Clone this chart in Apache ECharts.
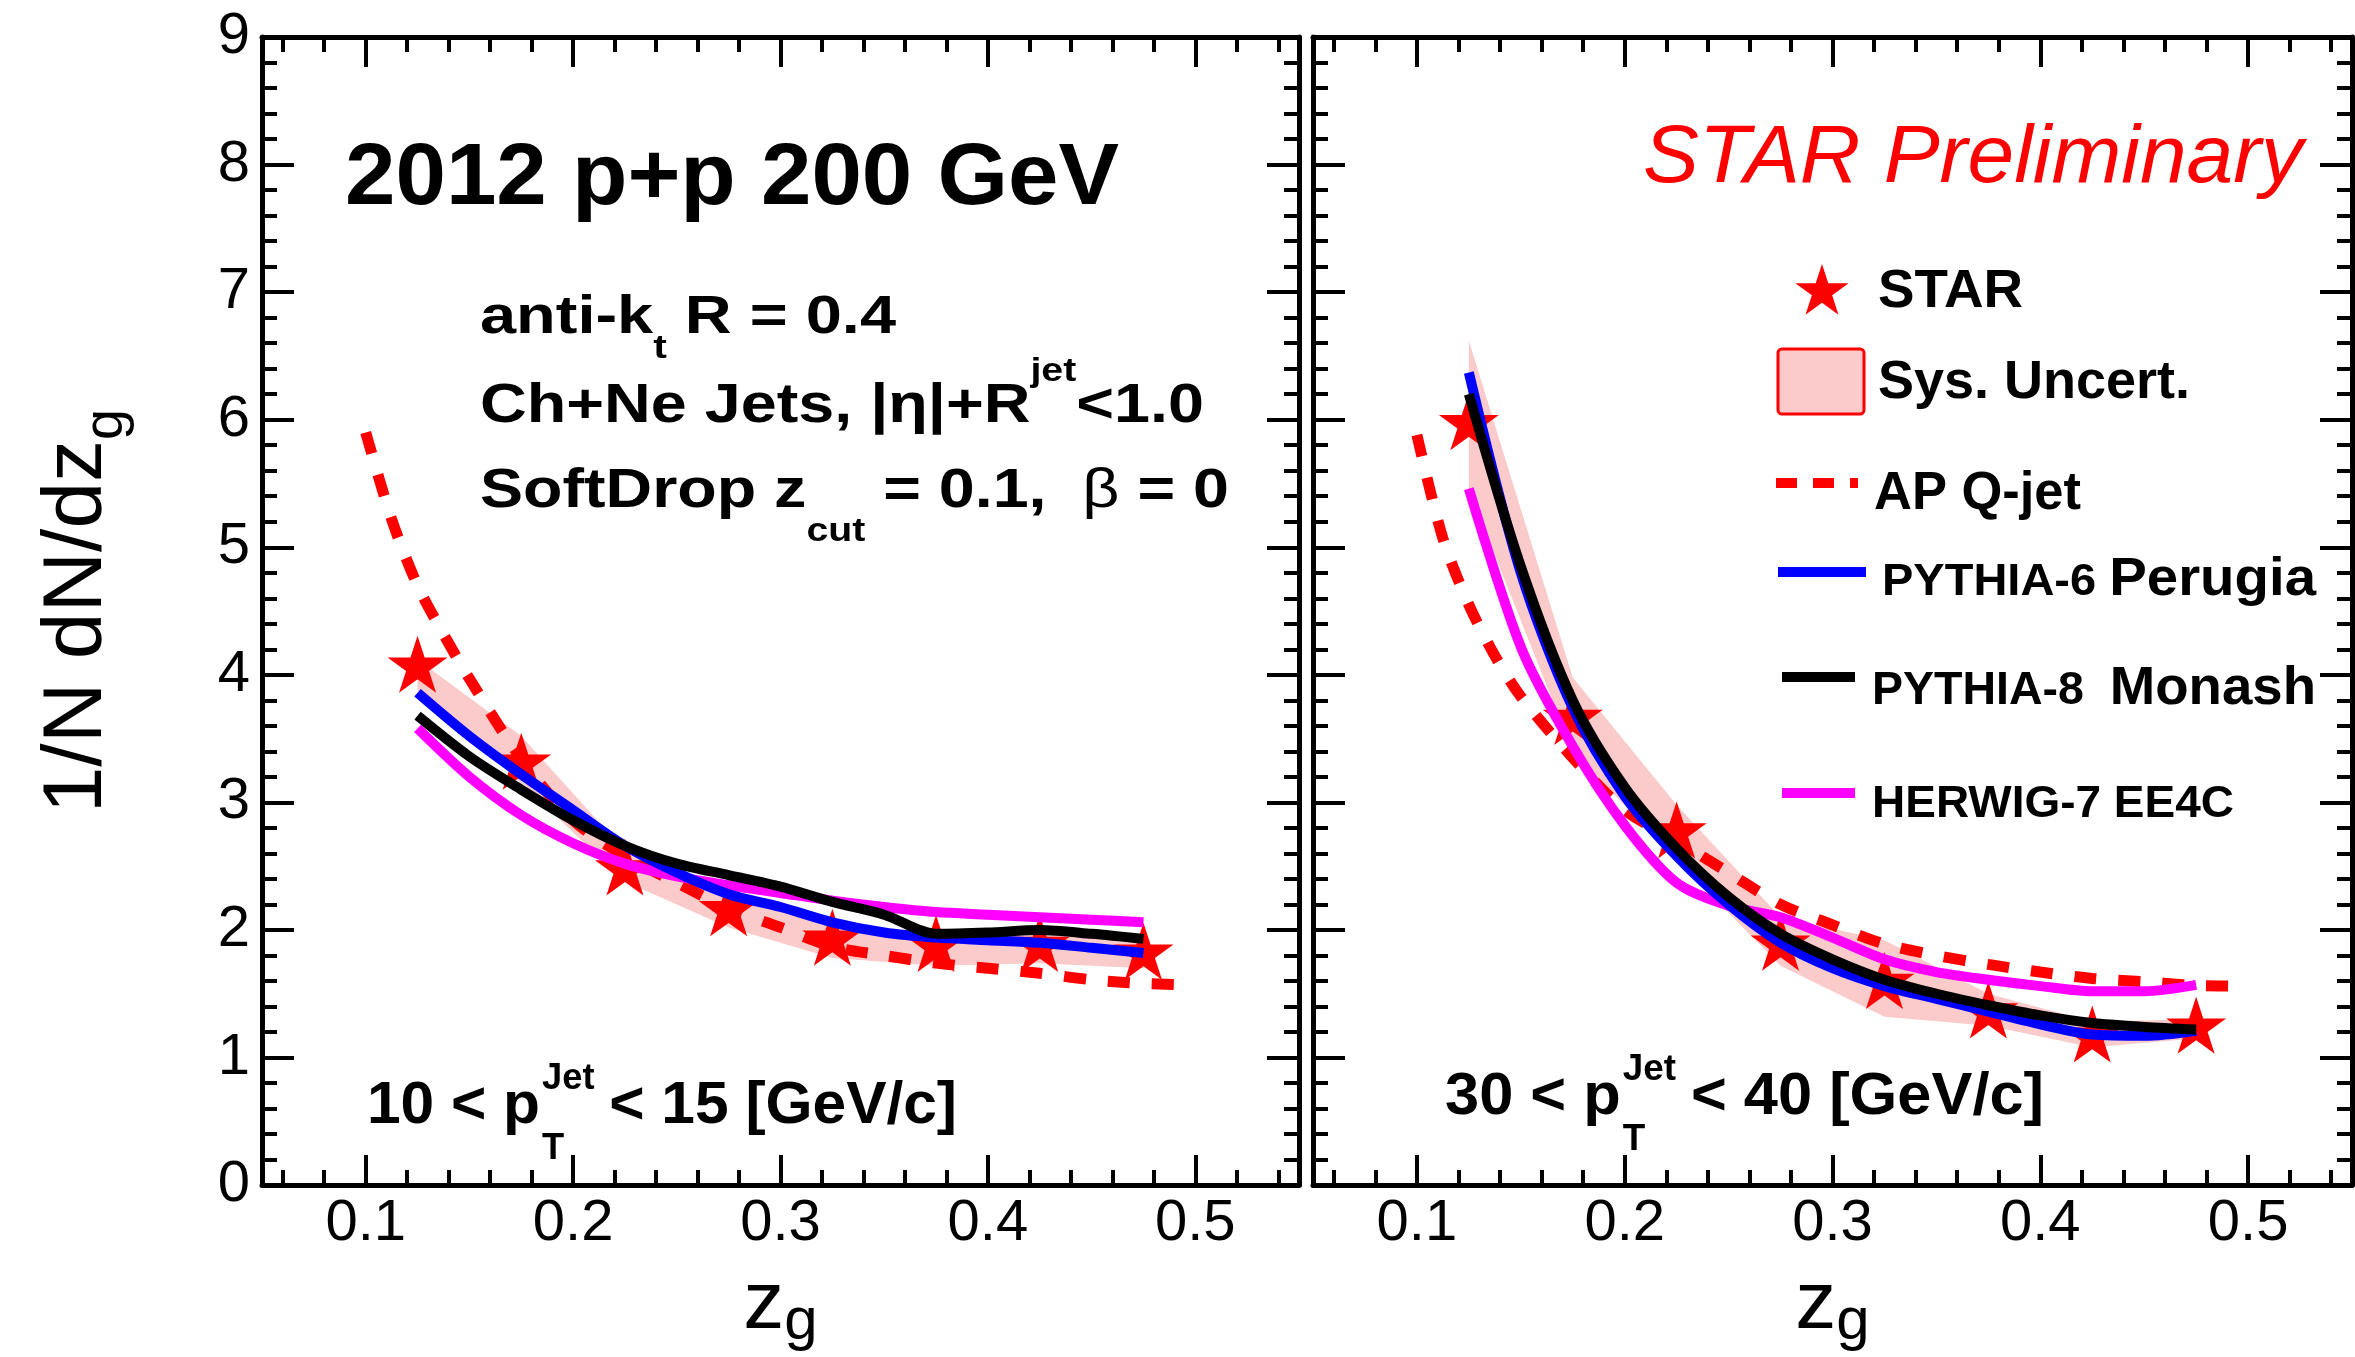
<!DOCTYPE html>
<html><head><meta charset="utf-8">
<script src="https://cdn.jsdelivr.net/npm/echarts@6/dist/echarts.min.js"></script>
<style>html,body{margin:0;padding:0;background:#fff;} #c{width:2355px;height:1357px;}</style>
</head><body><div id="c"></div>
<script>
const FONT = '"Liberation Sans", Arial, Helvetica, sans-serif';

// ---- axis ticks ----
const xMajor = [0.1, 0.2, 0.3, 0.4, 0.5];
const xMinor = [];
for (let i = 3; i <= 27; i++) { if (i % 5 !== 0) xMinor.push(+(i * 0.02).toFixed(2)); }

// ---- STAR data (bin centres) ----
const zgBins = [0.125, 0.175, 0.225, 0.275, 0.325, 0.375, 0.425, 0.475];
const starLow  = [4.06, 3.30, 2.47, 2.15, 1.92, 1.87, 1.87, 1.81];   // 10<pT<15
const sysLowLo = [3.88, 3.15, 2.38, 2.02, 1.78, 1.72, 1.74, 1.70];
const sysLowHi = [4.12, 3.52, 2.62, 2.25, 2.05, 1.96, 1.96, 1.92];
const starHigh  = [5.96, 3.65, 2.76, 1.88, 1.58, 1.35, 1.16, 1.23];  // 30<pT<40
const sysHighLo = [5.45, 3.40, 2.55, 1.72, 1.32, 1.25, 1.08, 1.15];
const sysHighHi = [6.62, 3.98, 2.98, 2.10, 1.92, 1.50, 1.28, 1.30];

// ---- AP Q-jet ----
const apX     = [0.10, 0.1125, 0.125, 0.1375, 0.15, 0.175, 0.20, 0.225, 0.25, 0.275, 0.30, 0.325, 0.35, 0.375, 0.40, 0.425, 0.45, 0.475, 0.50];
const apLow   = [5.90, 5.22, 4.70, 4.32, 3.97, 3.34, 2.86, 2.58, 2.37, 2.17, 2.02, 1.87, 1.80, 1.74, 1.70, 1.66, 1.61, 1.58, 1.57];
const apHigh  = [5.88, 5.07, 4.55, 4.15, 3.83, 3.35, 2.94, 2.70, 2.45, 2.20, 2.04, 1.89, 1.80, 1.73, 1.67, 1.62, 1.595, 1.565, 1.56];

// ---- MC curves ----
const mcX = [0.125, 0.15, 0.175, 0.20, 0.225, 0.25, 0.275, 0.30, 0.325, 0.35, 0.375, 0.40, 0.425, 0.45, 0.475];
const py6Low  = [3.86, 3.52, 3.22, 2.94, 2.66, 2.45, 2.28, 2.18, 2.06, 1.98, 1.94, 1.92, 1.90, 1.86, 1.82];
const py8Low  = [3.68, 3.36, 3.10, 2.86, 2.66, 2.52, 2.43, 2.34, 2.22, 2.12, 1.97, 1.98, 2.00, 1.97, 1.93];
const hwLow   = [3.58, 3.20, 2.90, 2.68, 2.52, 2.42, 2.35, 2.29, 2.23, 2.18, 2.14, 2.12, 2.10, 2.08, 2.06];
const py6High = [6.37, 4.80, 3.74, 3.05, 2.58, 2.20, 1.90, 1.70, 1.56, 1.46, 1.36, 1.26, 1.18, 1.17, 1.21];
const py8High = [6.20, 4.85, 3.80, 3.12, 2.64, 2.26, 1.97, 1.77, 1.61, 1.50, 1.41, 1.33, 1.27, 1.24, 1.22];
const hwHigh  = [5.46, 4.22, 3.44, 2.82, 2.37, 2.19, 2.10, 1.94, 1.77, 1.67, 1.61, 1.56, 1.52, 1.52, 1.57];

const RED = '#ff0000', BLUE = '#0000ff', MAG = '#ff00ff', PINK = '#fbcaca';
const STAR_D = 'M50,0 L61.23,34.55 L97.55,34.55 L68.16,55.9 L79.39,90.45 L50,69.1 L20.61,90.45 L31.84,55.9 L2.45,34.55 L38.77,34.55 Z';

const zip = (xs, ys) => xs.map((x, i) => [x, ys[i]]);

// star polygon for the legend icon (centre cx, cy, outer radius R)
function starPoints(cx, cy, R) {
  const pts = [];
  for (let k = 0; k < 10; k++) {
    const r = k % 2 ? R * 0.382 : R;
    const a = -Math.PI / 2 + k * Math.PI / 5;
    pts.push([cx + r * Math.cos(a), cy + r * Math.sin(a)]);
  }
  return pts;
}

// ---- text helper (measured layout, sub/superscripts) ----
const mctx = document.createElement('canvas').getContext('2d');
function tw(t, f, w) { mctx.font = w + ' ' + f + 'px ' + FONT; return mctx.measureText(t).width; }
function mtext(x0, base, parts, targetW, color) {
  let x = 0, pend = 0; const kids = [];
  parts.forEach(p => {
    const w = p.w || 'bold';
    const wd = tw(p.t, p.f, w);
    kids.push({type: 'text', x: x + (p.dx || 0), y: (p.dy || 0) - 0.31 * p.f,
      style: {text: p.t, font: w + ' ' + p.f + 'px ' + FONT, fill: color || '#000',
        textAlign: 'left', align: 'left', textVerticalAlign: 'middle', verticalAlign: 'middle'}});
    if (p.stack) pend = Math.max(pend, wd);
    else { x += Math.max(wd, pend); pend = 0; }
  });
  const sx = targetW ? targetW / x : 1;
  return {type: 'group', x: x0, y: base, scaleX: sx, children: kids, silent: true};
}

// ---- axes ----
const AX = {color: '#000', width: 5};
const TK = {color: '#000', width: 4};
const labelFont = {fontFamily: FONT, fontSize: 58, color: '#000'};
function xAxesFor(g) {
  const base = {type: 'value', gridIndex: g, min: 0.05, max: 0.55, splitLine: {show: false}};
  return [
    Object.assign({}, base, {position: 'bottom', axisLine: {show: true, lineStyle: AX},
      axisTick: {show: true, inside: true, length: 30, lineStyle: TK, customValues: xMajor},
      axisLabel: Object.assign({show: true, customValues: xMajor, margin: 10, formatter: v => (+v).toFixed(1)}, labelFont),
      name: '{a|z}{s|g}', nameLocation: 'middle', nameGap: 72,
      nameTextStyle: {rich: {
        a: {fontFamily: FONT, fontSize: 82, lineHeight: 82, color: '#000'},
        s: {fontFamily: FONT, fontSize: 60, lineHeight: 60, padding: [34, 0, 0, 0], color: '#000'}}}}),
    Object.assign({}, base, {position: 'bottom', axisLine: {show: false},
      axisTick: {show: true, inside: true, length: 15, lineStyle: TK, customValues: xMinor},
      axisLabel: {show: false}}),
    Object.assign({}, base, {position: 'top', axisLine: {show: true, lineStyle: AX},
      axisTick: {show: true, inside: true, length: 30, lineStyle: TK, customValues: xMajor},
      axisLabel: {show: false}}),
    Object.assign({}, base, {position: 'top', axisLine: {show: false},
      axisTick: {show: true, inside: true, length: 15, lineStyle: TK, customValues: xMinor},
      axisLabel: {show: false}})
  ];
}
function yAxesFor(g) {
  const base = {type: 'value', gridIndex: g, min: 0, max: 9, interval: 1,
    axisLine: {show: true, lineStyle: AX},
    axisTick: {show: true, inside: true, length: 32, lineStyle: TK},
    minorTick: {show: true, splitNumber: 5, length: 15, lineStyle: TK},
    splitLine: {show: false}, minorSplitLine: {show: false}};
  const left = Object.assign({}, base, {position: 'left',
    axisLabel: Object.assign({show: g === 0, margin: 12}, labelFont)});
  if (g === 0) {
    Object.assign(left, {name: '{a|1/N dN/dz}{s|g}', nameLocation: 'middle', nameRotate: 90, nameGap: 142,
      nameTextStyle: {rich: {
        a: {fontFamily: FONT, fontSize: 84, lineHeight: 84, color: '#000'},
        s: {fontFamily: FONT, fontSize: 56, lineHeight: 56, padding: [58, 0, 0, 0], color: '#000'}}}});
  }
  const right = Object.assign({}, base, {position: 'right', axisLabel: {show: false}});
  return [left, right];
}

// ---- series ----
function bandSeries(g, lo, hi) {
  return {type: 'custom', xAxisIndex: 4 * g, yAxisIndex: 2 * g, z: 1, silent: true,
    data: zgBins.map((x, k) => [x, lo[k], hi[k]]),
    renderItem(params, api) {
      if (params.dataIndex !== 0) return;
      const pts = [];
      for (let k = 0; k < zgBins.length; k++) pts.push(api.coord([zgBins[k], hi[k]]));
      for (let k = zgBins.length - 1; k >= 0; k--) pts.push(api.coord([zgBins[k], lo[k]]));
      return {type: 'polygon', shape: {points: pts}, style: {fill: PINK}};
    }};
}
function lineSeries(g, xs, ys, color, z, dashed) {
  return {type: 'line', xAxisIndex: 4 * g, yAxisIndex: 2 * g, z: z, silent: true,
    data: zip(xs, ys), smooth: 0.3, showSymbol: false, symbol: 'none',
    lineStyle: dashed ? {color: color, width: 11, type: [22, 22]} : {color: color, width: 10}};
}
function starSeries(g, ys) {
  return {type: 'scatter', xAxisIndex: 4 * g, yAxisIndex: 2 * g, z: 2, silent: true,
    data: zip(zgBins, ys), symbol: 'path://' + STAR_D, symbolSize: [60, 57], symbolOffset: [0, -3],
    itemStyle: {color: RED, opacity: 1}};
}

const series = [];
[[sysLowLo, sysLowHi, starLow, apLow, hwLow, py6Low, py8Low],
 [sysHighLo, sysHighHi, starHigh, apHigh, hwHigh, py6High, py8High]].forEach((d, g) => {
  series.push(bandSeries(g, d[0], d[1]));
  series.push(starSeries(g, d[2]));
  series.push(lineSeries(g, apX, d[3], RED, 3, true));
  series.push(lineSeries(g, mcX, d[4], MAG, 4));
  series.push(lineSeries(g, mcX, d[5], BLUE, 5));
  series.push(lineSeries(g, mcX, d[6], '#000', 6));
});

// ---- annotations & legend ----
const graphics = [
  mtext(345, 207, [{t: '2012 p+p 200 GeV', f: 87}], 774),
  mtext(480, 335, [{t: 'anti-k', f: 54}, {t: 't', f: 34, dy: 24}, {t: ' R = 0.4', f: 54}], 416),
  mtext(480, 424, [{t: 'Ch+Ne Jets, |η|+R', f: 56}, {t: 'jet', f: 34, dy: -42}, {t: '<1.0', f: 56}], 724),
  mtext(480, 509, [{t: 'SoftDrop z', f: 56}, {t: 'cut', f: 34, dy: 33}, {t: ' = 0.1,  ', f: 56}, {t: 'β', f: 56, w: 'normal'}, {t: ' = 0', f: 56}], 749),
  mtext(367, 1125, [{t: '10 < p', f: 60}, {t: 'Jet', f: 36, dy: -35, dx: 2, stack: true}, {t: 'T', f: 36, dy: 35, dx: 2}, {t: ' < 15 [GeV/c]', f: 60}], 590),
  mtext(1445, 1116, [{t: '30 < p', f: 60}, {t: 'Jet', f: 36, dy: -35, dx: 2, stack: true}, {t: 'T', f: 36, dy: 35, dx: 2}, {t: ' < 40 [GeV/c]', f: 60}], 599),
  mtext(1643, 185, [{t: 'STAR Preliminary', f: 82, w: 'italic'}], 660, RED),
  // legend
  {type: 'polygon', shape: {points: starPoints(1822, 292, 28)}, style: {fill: RED}, silent: true},
  mtext(1878, 309, [{t: 'STAR', f: 53}], 145),
  {type: 'rect', shape: {x: 1778, y: 349, width: 86, height: 65, r: 4}, style: {fill: PINK, stroke: RED, lineWidth: 3}, silent: true},
  mtext(1878, 400, [{t: 'Sys. Uncert.', f: 54}], 312),
  {type: 'line', shape: {x1: 1776, y1: 483, x2: 1858, y2: 483}, style: {stroke: RED, lineWidth: 10, lineDash: [21, 16]}, silent: true},
  mtext(1874, 511, [{t: 'AP Q-jet', f: 53}], 207),
  {type: 'line', shape: {x1: 1778, y1: 572, x2: 1866, y2: 572}, style: {stroke: BLUE, lineWidth: 10}, silent: true},
  mtext(1882, 597, [{t: 'PYTHIA-6 ', f: 45}, {t: 'Perugia', f: 54}], 434),
  {type: 'line', shape: {x1: 1782, y1: 677, x2: 1855, y2: 677}, style: {stroke: '#000', lineWidth: 10}, silent: true},
  mtext(1872, 706, [{t: 'PYTHIA-8  ', f: 46}, {t: 'Monash', f: 54}], 444),
  {type: 'line', shape: {x1: 1782, y1: 793, x2: 1855, y2: 793}, style: {stroke: MAG, lineWidth: 10}, silent: true},
  mtext(1872, 819, [{t: 'HERWIG-7 EE4C', f: 45}], 362)
];

const chart = echarts.init(document.getElementById('c'), null, {renderer: 'canvas'});
chart.setOption({
  animation: false,
  backgroundColor: '#fff',
  grid: [
    {left: 262, top: 37, width: 1037, height: 1149},
    {left: 1313, top: 37, width: 1039, height: 1149}
  ],
  xAxis: xAxesFor(0).concat(xAxesFor(1)),
  yAxis: yAxesFor(0).concat(yAxesFor(1)),
  series: series,
  graphic: graphics
});
</script></body></html>
